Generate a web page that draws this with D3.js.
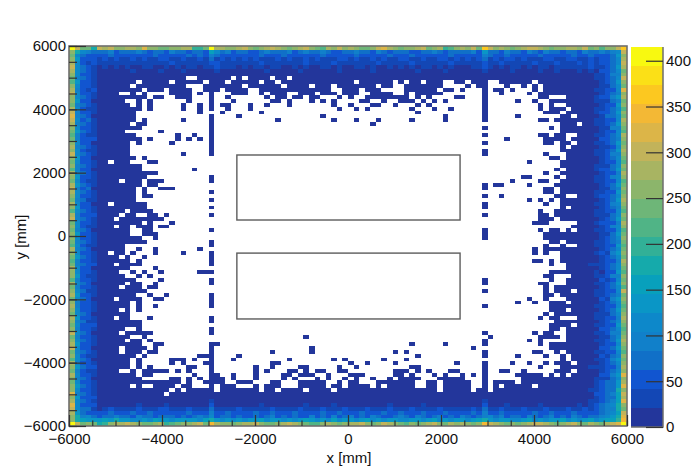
<!DOCTYPE html>
<html>
<head>
<meta charset="utf-8">
<script src="https://cdn.jsdelivr.net/npm/d3@7"></script>
<style>
html,body{margin:0;padding:0;background:#fff;}
svg{display:block;}
text{font-family:"Liberation Sans",Arial,sans-serif;fill:#111;}
</style>
</head>
<body>
<svg id="c" width="698" height="475"></svg>
<script>
// --- values (mm, counts, 100 x 100 bins) ---
const xDomain = [-6000, 6000];
const yDomain = [-6000, 6000];
const zMax = 415;
const binCount = 100;
const xMajorTicks = [-6000,-4000,-2000,0,2000,4000,6000];
const yMajorTicks = [-6000,-4000,-2000,0,2000,4000,6000];
const xMinorTicks = d3.range(-6000,6001,500);
const yMinorTicks = d3.range(-6000,6001,500);
const zTicks = [0,50,100,150,200,250,300,350,400];
const palette = ["#23369b","#1347b5","#1155d0","#1070c8","#1180ca","#0d88ca","#0a96c6","#08a0bc","#15aaab","#32b097",
                 "#50b486","#6eb678","#8cb56b","#a8b462","#c2b35a","#dcb548","#f3b835","#fcc820","#fbe017","#f8f910"];
// detector outlines: x0, y0, x1, y1 in mm
const outlines = [[-2390,505,2410,2558],[-2390,-2620,2410,-540]];

// occupied bins per row, top row of the picture = row index 8
const firstListedRow = 8;
const occupiedRows = [
"0-20,23-28,30,32-35,37-38,40-99",
"0-11,13-17,19-23,25-27,29-33,35-36,38-50,52-57,59,61-62,64-66,69-70,72-74,77-82,84-99",
"0-10,12-20,24-30,32-37,39-42,44-46,48-54,56-57,60-66,71,73-74,78,81,83,85-99",
"0-12,14-16,18-21,24-26,28-31,34-46,49-51,53-55,60-65,67-68,70,74,76-77,79,83,85-99",
"0-8,11,13,18-21,23,25,29-31,34,36-38,41-43,45-47,49-51,54-57,60,62-66,74,77,82,84-99",
"0-13,15-16,19-21,25,28,35,37-38,40-41,43-44,48,50,53-60,62,64,69-70,74,84-85,89-99",
"0-9,12,14,21,25,29,36-37,39,43,45,47,52-53,56,59-61,63,65,67,74,80,83,86-99",
"0-10,12,14,20,23,25,27-28,32,35,39,47,50,54-55,58,62,64,74,84,86,89-99",
"0-12,14,20,23,25,28,32,48,51,53,61,65,68,74,84,86-88,90-99",
"0-11,23,27,34,62,74,85-87,89-99",
"0-11,25,30,45,67,74,80,88-89,91-99",
"0-11,13,20,25,37,47,51,55,61,67,74,84-85,87-99",
"0-10,12-13,25,54,88-90,92-99",
"0-12,25,74,86,88-99",
"0-9,16,25,88-99",
"0-11,19,22,25,74,84-85,87-88,91-99",
"0-12,14,19,21,23,25,78,85-88,90-99",
"0-10,12,18,25,74,85-86,88-89,91-99",
"0-10,25,88,90-99",
"0-10,25,74,88-99",
"0-10,20,25,74,85,89-99",
"0-11,13,86-87,89-99",
"0-6,8-10,14-15,82,88-99",
"0-12,88-99",
"0-12,22,87,89-99",
"0-15,85,88-99",
"0-13,25,81-82,87,89-99",
"0-8,10-12,14-16,25,79,84-85,88-99",
"0-12,14-15,74,76-77,82,87-99",
"0-11,13,16-18,74,85-86,88-99",
"0-11,13,25,85-86,88-99",
"0-11,13-14,74,77,87-88,91-99",
"0-11,25,82,84,86,88-99",
"0-6,8-13,74,85,88-99",
"0-13,25,74,88,90-99",
"0-9,11-14,84,87-99",
"0-8,10-11,14-15,17,25,74,84-85,87-99",
"0-7,9-16,84-86,88-99",
"0-12,14,18,83-85,91-99",
"0-7,9-10,12-14,16-17,90-99",
"0-10,13-14,25,74,84,86-87,89,91-99",
"0-10,13-15,74,85-99",
"0-12,15,74,85-99",
"0-13,25,86-87,89-99",
"0-9,25,85,88,91-99",
"0-9,12,15,23,83,85-99",
"0-6,8-9,11,15,20,25,83,85,88-99",
"0-8,10,13,25,88-99",
"0-10,12,25,83-84,86,88-99",
"0-7,9-12,25,86,89-99",
"0-10,15,89-99",
"0-8,11,13,16,23-25,86-99",
"0-9,12,14,85-86,90-99",
"0-11,16,25,74,86,89-99",
"0-9,11-12,15,25,74,84-85,89-99",
"0-8,10-12,14-15,85,87-99",
"0-13,74,85,87-89,91-99",
"0-11,14,17,25,85-86,88-99",
"0-7,9-12,15-16,25,82,85,89-99",
"0-10,12,25,80,83,86-88,90-99",
"0-10,12,15,25,74,86-99",
"0-8,10,12,86-88,90-99",
"0-10,85,87-99",
"0-7,9-10,14,25,84,86-87,91-99",
"0-12,25,87-99",
"0-12,86-89,91-99",
"0-9,12,25,86-87,89-99",
"0-8,10-14,25,74,83,85-86,89-99",
"0-10,13,42,75,84-87,89-99",
"0-9,11-12,14,74,82,84,89-99",
"0-12,15-16,25-26,61,67,74,84,86-99",
"0-8,10-13,15,25,43,72,86-99",
"0-8,10-12,14-15,25,36,43,58,60,74,83-84,87,89-99",
"0-11,13,23-25,30,62,74,80,85,88,90-99",
"0-10,12,18-20,22,25,29,39,47,49,56,60,88,90-99",
"0-10,12,18,20,24-25,36-37,50,53,58,69,74,79,82,85,87-89,91-99",
"0-10,12,14,21-22,25,33,36,41-42,48,51,61-62,74,84,88-99",
"0-8,11,13-17,19,21,25,33,35,39-40,42,44-45,48-49,58-60,62,64,68-69,74,77-78,81,87-89,91-99",
"0-11,13-14,22,25-26,29,33,38-39,41-43,46,50-52,58-59,61,65,67,70,72,74,80-84,86,88,90-99",
"0-12,18-19,21,23,25-27,29,33,38,40,44,46,49,51,54,57,59-62,66-70,74,81-99",
"0-19,21,24-27,30-32,36-37,41-45,48,50-51,55-61,64-65,67-71,74,76-79,81-99",
"0-10,12,15-18,20-21,25,27-29,33,35-37,41-45,47-48,50-53,55,57-61,64-65,67-71,74,76,78-82,84-99",
"0-17,19,21-25,27-33,35-36,38-41,43-46,48-65,67-71,73-74,76-99",
"0-16,18-99"
];

// colour-band index per bin along the borders (base-36 digit), everything else occupied = band 0
const topRows = [
"jebb8edecc ddcfccbbcc dd99bjddcc decbcdedcb cdecbadcec dcbbcefdcb ccdebcd9ac dcebhecdcb cdeedcbccd dcebcacceh",
"c854333423 3343233243 3233275342 3322343334 2343343223 3433243233 3223343233 3342633243 3243243323 3243343457",
"b532222322 2222232222 2323243222 2222322232 2222232222 2322222322 2322222232 2222432232 2222322222 3223222356",
"c621212121 1212112211 2112131212 1212111212 1121211122 1211212112 2112112212 1212312122 1211122112 2112122256",
"d521211111 1111111121 1111122111 1111211111 1121111211 1111121111 1211111121 1111211211 1112111211 1212112245",
"e521101010 1001100101 0110112111 0101101100 1010011010 0110100101 0101101010 0011210101 1010110111 1112112356",
"d521100000 0100001000 1000001000 0000010000 0100000010 0000100000 0010000100 0000100001 0000100100 0101011255"
];
const topRowStart = 0;
const bottomRows = [
"d521000000 0000000000 0000010000 0000000000 0000000000 0000000000 0000000000 0000100000 0000000000 0001011234",
"c510100000 0010000100 0000020000 0000100000 0010000100 0000000100 0001000000 0000200010 0000100000 0100101245",
"d521101211 1121112211 1211131111 2111112111 1211121112 1112111211 1211112111 1121311211 1211121112 1121111356",
"c532222322 2322322222 2322242232 2223223222 3222232232 2232223223 2223222322 2232422322 2223223222 3222222456",
"b645323343 3243323332 3234352332 3223234232 3224232423 4232432234 3243234232 4323453423 3243234232 4323345678",
"c876667686 6556576656 6665786565 6566756656 5676565756 6567565665 5665675656 6567865665 5675656675 6567567789",
"jebcb89cdd edcbbcd9ab ccdebgdccb cddecbbcde dcbaacdcbc ddecbcedcb acbcdecbdc dcbcgedcbc bcdeedcbcd ecbdcbdefj"
];
const bottomRowStart = 93;
const leftCols = [
"jcbcdedcba cdeccbdefe dcbabcdcec bcadcbdedc bdcadebcbc cbadcbabdc cadbcdbcdc bdcbcebcde bcadcbdcbc cfcdfedcbj",
"8555454546 5455645445 4564454556 5445656455 4565445546 5454564455 6454565445 5645454565 4554645456 5465456887",
"5322233232 2223232232 3232223232 2323223232 3223232232 2323232322 2232323222 3232232322 3232322323 2323233456",
"3212122222 2122221223 2221222122 2222212322 1222222122 2212222222 1222122222 2212222222 2122212222 2222232345",
"2111211111 1211011101 1111201110 1101111011 1011211101 1110111201 1101110111 0112101110 1101211011 1121212234"
];
const rightCols = [
"hecdedbcec bfcdbcacbd cbadcbcdcb acbdcabcbc dcbacbdcab cbabcbdcba cbcaebcbab cdcbabcdcb acbcdcfcdf cedfcbefgj",
"7565565456 5546465655 6455465645 5564556465 6545564556 5465654556 4565546556 5456545656 5465456566 8777887898",
"5333333433 3234323332 3423332343 2332423323 3432332423 3323432332 4233234323 3232343323 2343234333 3434545667",
"4222222222 1222122232 2122221222 2122222122 2222122221 2222122222 2122221222 1222221222 2122222133 3333444556",
"3211212111 1112111211 1111211111 1121111112 1111112111 1111211110 1211112111 1111211112 1211112122 2222333445",
"2111100110 0101101101 1001010110 0110110011 0101101010 0110100101 1010110010 1101010100 1010100111 1211222334",
"1000000000 0000000000 0000000000 0000000000 0000000000 0000000100 0000000000 0000000000 0000100000 1000112334"
];
const leftColStart = 0;
const rightColStart = 99; // rightCols[k] is bin column 99 - k

// --- helpers ---
const clean = s => s.replace(/ /g,"");
const band = c => c === undefined || c === "" ? 0 : parseInt(c,36);
function isOccupied(i,j){
  if(j < firstListedRow || j >= firstListedRow + occupiedRows.length) return true;
  return occupiedRows[j-firstListedRow].split(",").some(p=>{
    const [a,b] = p.split("-").map(Number);
    return i>=a && i<=(b===undefined?a:b);
  });
}
function bandAt(i,j){
  const v=[0];
  if(j-topRowStart<topRows.length) v.push(band(clean(topRows[j-topRowStart])[i]));
  if(j>=bottomRowStart) v.push(band(clean(bottomRows[j-bottomRowStart])[i]));
  if(i-leftColStart<leftCols.length) v.push(band(clean(leftCols[i-leftColStart])[j]));
  if(rightColStart-i<rightCols.length) v.push(band(clean(rightCols[rightColStart-i])[j]));
  return Math.max(...v);
}
const binWidthMm = (xDomain[1]-xDomain[0])/binCount;
const binHeightMm = (yDomain[1]-yDomain[0])/binCount;
const cells=[];
for(let j=0;j<binCount;j++)for(let i=0;i<binCount;i++){
  if(isOccupied(i,j)) cells.push({i,j,count:(bandAt(i,j)+0.5)*zMax/palette.length});
}

// --- scales ---
const x=d3.scaleLinear().domain(xDomain).range([69,627]);
const y=d3.scaleLinear().domain(yDomain).range([426,46]);
const z=d3.scaleLinear().domain([0,zMax]).range([427,47]);
const color=d3.scaleQuantize().domain([0,zMax]).range(palette);

const svg=d3.select("#c");
svg.append("rect").attr("width",698).attr("height",475).attr("fill","#fff");

// cells
svg.append("g").attr("shape-rendering","crispEdges").selectAll("rect").data(cells).join("rect")
  .attr("x",d=>x(xDomain[0]+d.i*binWidthMm))
  .attr("width",d=>x(xDomain[0]+(d.i+1)*binWidthMm)-x(xDomain[0]+d.i*binWidthMm))
  .attr("y",d=>y(yDomain[1]-d.j*binHeightMm))
  .attr("height",d=>y(yDomain[1]-(d.j+1)*binHeightMm)-y(yDomain[1]-d.j*binHeightMm))
  .attr("fill",d=>color(d.count));

// detector outlines
svg.append("g").selectAll("rect").data(outlines).join("rect")
  .attr("x",d=>x(d[0])).attr("y",d=>y(d[3]))
  .attr("width",d=>x(d[2])-x(d[0])).attr("height",d=>y(d[1])-y(d[3]))
  .attr("fill","none").attr("stroke","#5c5c5c").attr("stroke-width",1.4);

// frame
svg.append("rect").attr("x",x(xDomain[0])).attr("y",y(yDomain[1]))
  .attr("width",x(xDomain[1])-x(xDomain[0])).attr("height",y(yDomain[0])-y(yDomain[1]))
  .attr("fill","none").attr("stroke","#6e6e6e").attr("stroke-width",1.6);

const tickColor="#333";
// minor ticks
svg.append("g").call(d3.axisBottom(x).tickValues(xMinorTicks).tickSize(-5.5).tickFormat(""))
  .attr("transform",`translate(0,${y(yDomain[0])})`)
  .call(g=>g.select(".domain").remove())
  .call(g=>g.selectAll("line").attr("stroke",tickColor).attr("stroke-width",1.2));
svg.append("g").call(d3.axisLeft(y).tickValues(yMinorTicks).tickSize(-8).tickFormat(""))
  .attr("transform",`translate(${x(xDomain[0])},0)`)
  .call(g=>g.select(".domain").remove())
  .call(g=>g.selectAll("line").attr("stroke",tickColor).attr("stroke-width",1.2));
// major ticks + labels
svg.append("g").call(d3.axisBottom(x).tickValues(xMajorTicks).tickSize(-11).tickPadding(7).tickFormat(d3.format("d")))
  .attr("transform",`translate(0,${y(yDomain[0])})`)
  .call(g=>g.select(".domain").remove())
  .call(g=>g.selectAll("line").attr("stroke",tickColor).attr("stroke-width",1.2))
  .call(g=>g.selectAll("text").attr("font-size",15).attr("font-family",'"Liberation Sans",Arial,sans-serif').attr("fill","#111"));
svg.append("g").call(d3.axisLeft(y).tickValues(yMajorTicks).tickSize(-17).tickPadding(3).tickFormat(d3.format("d")))
  .attr("transform",`translate(${x(xDomain[0])},0)`)
  .call(g=>g.select(".domain").remove())
  .call(g=>g.selectAll("line").attr("stroke",tickColor).attr("stroke-width",1.2))
  .call(g=>g.selectAll("text").attr("font-size",15).attr("font-family",'"Liberation Sans",Arial,sans-serif').attr("fill","#111"));

// axis titles
svg.append("text").attr("x",349).attr("y",463).attr("text-anchor","middle").attr("font-size",15).text("x [mm]");
svg.append("text").attr("transform","translate(26,237) rotate(-90)").attr("text-anchor","middle").attr("font-size",15).text("y [mm]");

// colour bar
const barLeft=631, barRight=663;
const bandSize=zMax/palette.length;
svg.append("g").attr("shape-rendering","crispEdges").selectAll("rect").data(palette).join("rect")
  .attr("x",barLeft).attr("width",barRight-barLeft)
  .attr("y",(d,k)=>z((k+1)*bandSize)).attr("height",(d,k)=>z(k*bandSize)-z((k+1)*bandSize))
  .attr("fill",d=>d);
svg.append("path").attr("d",`M${barLeft},${z(0)}H${barRight}V${z(zMax)}`).attr("fill","none")
  .attr("stroke","#6e6e6e").attr("stroke-width",1.5);
svg.append("g").attr("transform",`translate(${barRight},0)`)
  .call(d3.axisRight(z).tickValues(zTicks).tickSize(-17).tickPadding(3).tickFormat(d3.format("d")))
  .call(g=>g.select(".domain").remove())
  .call(g=>g.selectAll("line").attr("stroke",tickColor).attr("stroke-width",1.2))
  .call(g=>g.selectAll("text").attr("font-size",15).attr("font-family",'"Liberation Sans",Arial,sans-serif').attr("fill","#111"));
</script>
</body>
</html>
